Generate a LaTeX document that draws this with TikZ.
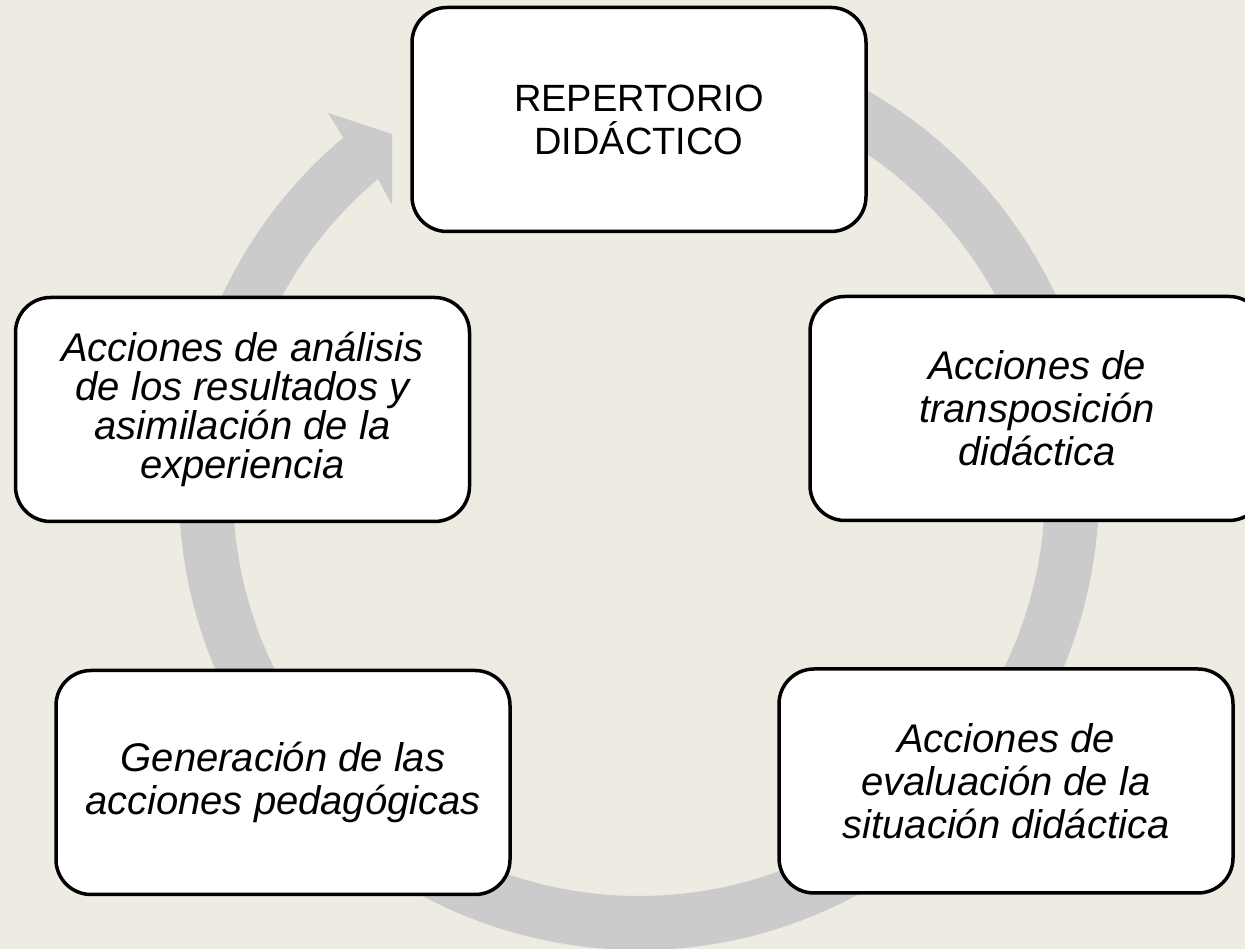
\documentclass[tikz,border=0pt]{standalone}
\usepackage{fontspec}
\setmainfont{Liberation Sans}
\definecolor{bg}{RGB}{238,235,227}
\definecolor{ringgray}{RGB}{203,203,203}
\tikzset{
  box/.style={draw=black, line width=3.5pt, fill=white, rounded corners=35pt,
    minimum width=454pt, minimum height=224pt, align=center, inner sep=0pt,
    font=\fontsize{38}{43}\selectfont},
  itbox/.style={box, font=\fontsize{40}{43}\selectfont\itshape},
  ringfill/.style={fill=ringgray}
}
\begin{document}
\begin{tikzpicture}[x=1pt,y=1pt]
\clip (0,0) rectangle (1245,949);
\fill[bg] (0,0) rectangle (1245,949);
\coordinate (c) at (639,459);
% circular arrow body
\fill[ringfill] ([shift={(c)}]80:460) arc[start angle=80,end angle=-230,radius=460]
  -- ([shift={(c)}]-230:406) arc[start angle=-230,end angle=80,radius=406] -- cycle;
% arrow head
\fill[ringfill] ([shift={(c)}]130:460) -- (328,836) -- (392,815) -- (392,744)
  -- ([shift={(c)}]130:406) -- cycle;
% boxes
\node[box] (top) at (639,829.5) {REPERTORIO\\DIDÁCTICO};
\node[itbox] (right) at (1037,540.5) {Acciones de\\transposición\\didáctica};
\node[itbox, font=\fontsize{40}{39}\selectfont\itshape] (left) at (242.5,539.5)
  {Acciones de análisis\\de los resultados y\\asimilación de la\\experiencia};
\node[itbox] (bl) at (283,166.5) {Generación de las\\acciones pedagógicas};
\node[itbox] (br) at (1006,168) {Acciones de\\evaluación de la\\situación didáctica};
\end{tikzpicture}
\end{document}
